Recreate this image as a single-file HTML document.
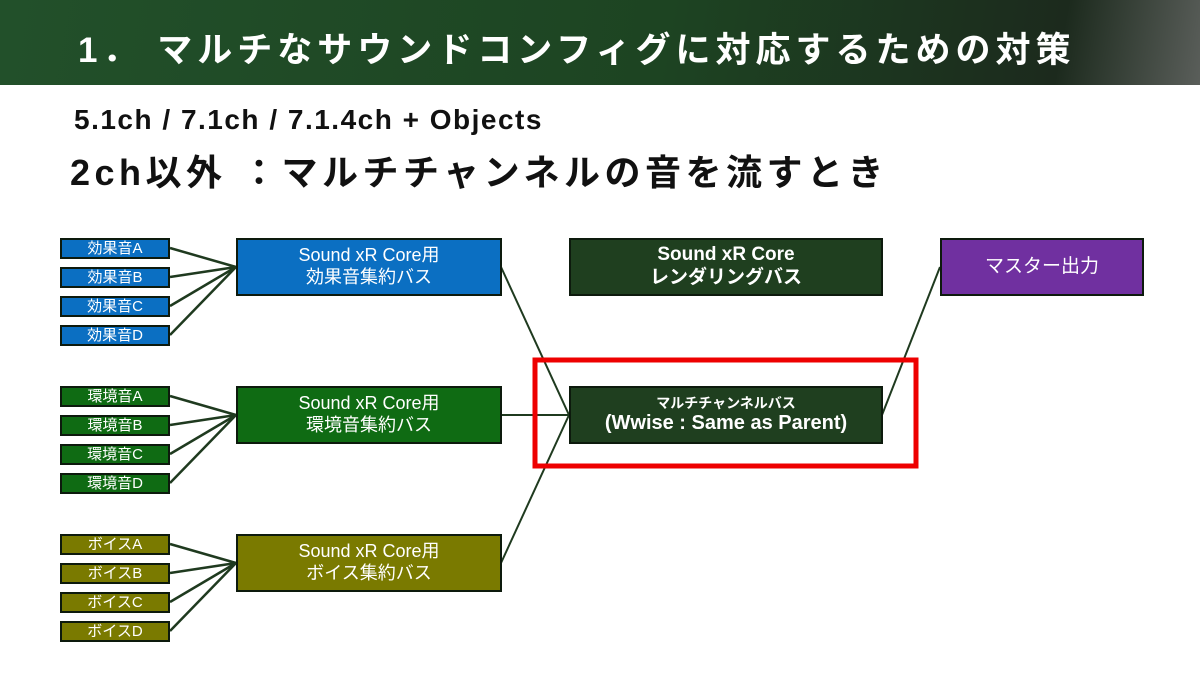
<!DOCTYPE html>
<html><head><meta charset="utf-8"><style>
body{margin:0;width:1200px;height:675px;background:#fff;position:relative;overflow:hidden;font-family:"Liberation Sans","Noto Sans CJK JP",sans-serif}
.hdr{position:absolute;left:0;top:0;width:1200px;height:85px;background:linear-gradient(100deg,#22502a 0%,#1d4422 55%,#1c2a1d 88%,#5a5e5a 100%)}
.t{position:absolute;color:#fff;font-size:35px;font-weight:bold;left:78px;top:22px;letter-spacing:5px;white-space:nowrap}
.s1{position:absolute;left:74px;top:104px;font-size:28px;font-weight:bold;color:#111;white-space:nowrap;letter-spacing:1.5px}
.s2{position:absolute;left:70px;top:144px;font-size:36px;font-weight:bold;color:#111;white-space:nowrap;letter-spacing:4.5px}
.b{position:absolute;box-sizing:border-box;border:2px solid #0d1a0d;color:#fff;display:flex;align-items:center;justify-content:center;text-align:center;line-height:1.2}
.sm{width:110px;height:21px;font-size:15px}
.ag{width:266px;height:58px;font-size:18px}
.bl{background:#0b6fc2}.gr{background:#0f6b13}.ol{background:#7a7a00}.dk{background:#1f3f1f}.pu{background:#7030a0}
</style></head><body>
<div class="hdr"></div>
<div class="t">1．&nbsp;マルチなサウンドコンフィグに対応するための対策</div>
<div class="s1">5.1ch / 7.1ch / 7.1.4ch + Objects</div>
<div class="s2">2ch以外 ：マルチチャンネルの音を流すとき</div>
<svg style="position:absolute;left:0;top:0" width="1200" height="675">
<g stroke="#1f3a1f" stroke-width="2.5" fill="none">
<line x1="170" y1="248" x2="236" y2="267"/><line x1="170" y1="277" x2="236" y2="267"/><line x1="170" y1="306" x2="236" y2="267"/><line x1="170" y1="335" x2="236" y2="267"/>
<line x1="170" y1="396" x2="236" y2="415"/><line x1="170" y1="425" x2="236" y2="415"/><line x1="170" y1="454" x2="236" y2="415"/><line x1="170" y1="483" x2="236" y2="415"/>
<line x1="170" y1="544" x2="236" y2="563"/><line x1="170" y1="573" x2="236" y2="563"/><line x1="170" y1="602" x2="236" y2="563"/><line x1="170" y1="631" x2="236" y2="563"/>
</g>
<g stroke="#1f3a1f" stroke-width="2" fill="none">
<line x1="501" y1="267" x2="569" y2="415"/><line x1="501" y1="415" x2="569" y2="415"/><line x1="501" y1="563" x2="569" y2="415"/><line x1="882" y1="415" x2="940" y2="267"/>
</g>
<rect x="535" y="360" width="381" height="106" fill="none" stroke="#e00" stroke-width="5"/>
</svg>
<div class="b sm bl" style="left:60px;top:238px">効果音A</div>
<div class="b sm bl" style="left:60px;top:267px">効果音B</div>
<div class="b sm bl" style="left:60px;top:296px">効果音C</div>
<div class="b sm bl" style="left:60px;top:325px">効果音D</div>
<div class="b sm gr" style="left:60px;top:386px">環境音A</div>
<div class="b sm gr" style="left:60px;top:415px">環境音B</div>
<div class="b sm gr" style="left:60px;top:444px">環境音C</div>
<div class="b sm gr" style="left:60px;top:473px">環境音D</div>
<div class="b sm ol" style="left:60px;top:534px">ボイスA</div>
<div class="b sm ol" style="left:60px;top:563px">ボイスB</div>
<div class="b sm ol" style="left:60px;top:592px">ボイスC</div>
<div class="b sm ol" style="left:60px;top:621px">ボイスD</div>
<div class="b ag bl" style="left:236px;top:238px">Sound xR Core用<br>効果音集約バス</div>
<div class="b ag gr" style="left:236px;top:386px">Sound xR Core用<br>環境音集約バス</div>
<div class="b ag ol" style="left:236px;top:534px">Sound xR Core用<br>ボイス集約バス</div>
<div class="b dk" style="left:569px;top:238px;width:314px;height:58px;font-size:19px;font-weight:bold">Sound xR Core<br>レンダリングバス</div>
<div class="b dk" style="left:569px;top:386px;width:314px;height:58px;font-weight:bold;flex-direction:column"><span style="font-size:14px">マルチチャンネルバス</span><span style="font-size:20px">(Wwise : Same as Parent)</span></div>
<div class="b pu" style="left:940px;top:238px;width:204px;height:58px;font-size:19px">マスター出力</div>
</body></html>
